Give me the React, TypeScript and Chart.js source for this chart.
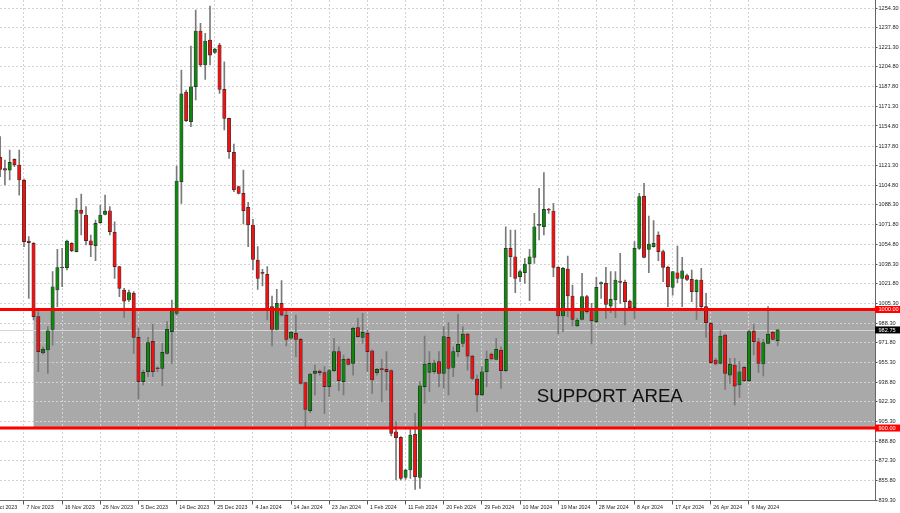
import React, { useEffect, useRef } from "react";
import { Chart, registerables } from "chart.js";

Chart.register(...registerables);

// ---- Data ----
const opens = [
  1128.3, 1118.8, 1117.6, 1126.6, 1121.9, 1109.2, 1057.7, 1055.8, 994.0, 963.5,
  965.8, 983.2, 1016.4, 1035.0, 1035.3, 1055.8, 1048.8, 1083.9, 1079.7, 1058.0,
  1053.8, 1073.2, 1080.2, 1083.3, 1065.0, 1036.1, 1016.4, 1008.0, 1013.6, 976.5,
  939.1, 947.5, 973.1, 950.4, 950.3, 963.0, 981.3, 996.7, 1107.8, 1183.4,
  1158.4, 1187.9, 1234.9, 1206.2, 1227.3, 1216.9, 1223.1, 1185.7, 1161.2, 1132.5,
  1103.6, 1097.9, 1086.1, 1071.3, 1041.7, 1030.5, 1029.6, 1002.4, 983.2, 1005.2,
  995.3, 975.7, 979.9, 974.8, 938.3, 914.6, 946.1, 948.1, 946.7, 934.9,
  948.4, 964.4, 939.1, 958.2, 954.6, 984.7, 976.5, 979.9, 965.2, 946.7,
  949.5, 949.5, 948.4, 896.9, 892.1, 858.4, 864.6, 894.7, 858.4, 934.9,
  947.0, 947.5, 956.0, 946.1, 976.5, 951.2, 964.4, 971.4, 979.3, 960.7,
  941.3, 927.9, 947.5, 962.4, 957.9, 965.8, 948.4, 1051.6, 1044.5, 1027.7,
  1031.0, 1038.4, 1044.0, 1071.0, 1069.8, 1084.0, 1083.1, 1035.5, 994.5, 1034.1,
  1011.4, 986.1, 991.7, 1010.8, 998.2, 989.7, 1021.5, 1022.1, 1002.9, 1008.0,
  1024.0, 1022.9, 1007.1, 1001.5, 1051.6, 1095.7, 1050.7, 1053.0, 1062.8, 1048.8,
  1035.5, 1018.7, 1031.0, 1026.3, 1028.5, 1025.4, 1015.0, 1024.9, 1002.4, 988.3,
  957.4, 954.6, 978.5, 944.7, 953.2, 936.3, 951.2, 939.9, 981.8, 972.8,
  954.0, 971.4, 980.7, 973.7,
];
const highs = [
  1145.8, 1126.1, 1134.5, 1127.0, 1134.5, 1110.0, 1061.4, 1056.5, 998.2, 968.6,
  985.5, 1031.9, 1050.7, 1051.6, 1058.6, 1056.4, 1093.7, 1097.4, 1086.7, 1062.8,
  1075.5, 1088.1, 1096.5, 1086.7, 1074.0, 1036.5, 1017.8, 1016.4, 1015.0, 984.1,
  948.9, 976.5, 987.7, 951.7, 971.4, 989.7, 1008.0, 1121.0, 1202.0, 1185.1,
  1222.2, 1252.6, 1241.4, 1232.9, 1256.0, 1220.5, 1224.5, 1209.0, 1161.5, 1139.6,
  1104.0, 1117.6, 1090.4, 1076.0, 1053.0, 1033.8, 1036.1, 1011.4, 1017.0, 1024.3,
  999.6, 981.3, 995.3, 975.7, 938.5, 946.1, 953.2, 949.0, 951.8, 949.5,
  975.7, 968.6, 961.6, 958.8, 985.0, 992.5, 996.7, 982.7, 965.8, 950.4,
  958.0, 964.4, 949.0, 905.4, 892.7, 865.2, 898.9, 912.4, 939.1, 977.6,
  964.4, 957.4, 964.4, 985.5, 988.9, 968.6, 995.9, 985.5, 979.9, 961.6,
  944.7, 951.7, 965.2, 963.5, 975.7, 968.6, 1069.8, 1067.0, 1067.0, 1033.3,
  1043.1, 1050.7, 1081.1, 1102.2, 1115.4, 1085.3, 1089.5, 1036.1, 1035.5, 1045.1,
  1020.6, 992.5, 1030.5, 1012.0, 1005.2, 1027.1, 1023.4, 1035.5, 1031.9, 1031.9,
  1047.4, 1024.9, 1008.0, 1057.2, 1098.0, 1106.4, 1078.8, 1074.9, 1065.6, 1050.2,
  1036.7, 1032.0, 1053.5, 1044.0, 1029.9, 1033.3, 1025.2, 1034.7, 1013.6, 988.9,
  958.8, 982.1, 979.3, 958.8, 958.8, 956.0, 951.8, 982.7, 987.7, 975.7,
  974.8, 1002.4, 981.3, 983.2,
];
const lows = [
  1112.0, 1105.0, 1109.2, 1120.5, 1096.5, 1053.0, 1009.4, 991.1, 947.5, 962.4,
  946.1, 970.0, 1002.4, 1019.2, 1033.3, 1048.8, 1048.5, 1062.8, 1054.4, 1044.5,
  1041.2, 1072.6, 1079.7, 1062.8, 1026.3, 1010.8, 993.4, 1006.6, 963.0, 924.5,
  936.3, 943.3, 943.3, 947.5, 935.7, 962.4, 954.6, 995.3, 1089.5, 1158.4,
  1154.2, 1176.7, 1204.8, 1194.1, 1206.2, 1216.0, 1182.3, 1151.4, 1127.5, 1099.4,
  1097.5, 1072.1, 1053.0, 1033.3, 1017.0, 1019.8, 991.1, 969.2, 982.7, 994.5,
  969.2, 974.8, 960.2, 937.0, 901.1, 913.0, 927.9, 944.7, 912.4, 926.5,
  947.5, 931.5, 927.9, 953.2, 944.7, 976.5, 971.4, 947.5, 929.3, 944.7,
  922.2, 932.0, 893.3, 856.2, 856.2, 856.7, 857.6, 848.3, 849.1, 920.8,
  930.7, 946.1, 934.9, 933.5, 927.9, 943.3, 960.2, 968.6, 948.9, 940.5,
  913.8, 927.0, 934.9, 957.4, 957.4, 933.5, 947.5, 1027.7, 1014.2, 1023.4,
  1022.0, 1007.4, 1038.9, 1058.6, 1062.8, 1081.1, 1027.7, 979.3, 981.3, 993.9,
  986.1, 985.5, 991.1, 996.8, 970.9, 988.9, 1009.4, 992.5, 997.3, 993.1,
  1005.2, 986.9, 1000.9, 992.5, 1050.7, 1043.5, 1031.0, 1052.5, 1041.2, 1023.4,
  1002.4, 1012.0, 1022.6, 1002.4, 1024.3, 1006.6, 991.7, 1001.5, 976.5, 954.6,
  953.2, 954.0, 932.6, 937.7, 919.4, 925.9, 939.1, 939.1, 961.6, 946.7,
  943.9, 970.9, 974.3, 969.2,
];
const closes = [
  1118.2, 1117.6, 1124.1, 1122.2, 1109.2, 1057.2, 1056.3, 994.0, 964.4, 966.4,
  982.1, 1019.2, 1035.3, 1035.6, 1057.7, 1049.6, 1083.9, 1081.1, 1058.0, 1054.4,
  1072.6, 1079.7, 1083.0, 1065.6, 1036.1, 1017.8, 1007.1, 1014.2, 976.5, 939.1,
  947.0, 972.0, 947.5, 950.0, 963.8, 983.2, 999.6, 1108.4, 1181.8, 1159.3,
  1187.9, 1234.9, 1206.2, 1226.5, 1214.6, 1219.7, 1185.7, 1161.2, 1133.1, 1100.8,
  1097.9, 1083.3, 1071.3, 1042.3, 1026.3, 1030.4, 1001.0, 983.2, 1005.2, 995.3,
  974.8, 980.7, 974.8, 937.7, 915.8, 945.6, 948.1, 946.7, 934.9, 948.4,
  964.4, 939.9, 958.0, 953.7, 984.1, 977.1, 980.7, 964.4, 940.5, 949.5,
  949.3, 947.5, 895.5, 891.9, 857.6, 864.6, 894.1, 859.0, 935.7, 954.0,
  954.6, 955.1, 946.1, 977.1, 950.3, 964.4, 970.6, 979.3, 960.7, 941.9,
  927.9, 947.5, 957.9, 958.2, 966.4, 948.4, 1051.6, 1044.5, 1026.3, 1031.9,
  1038.4, 1044.5, 1069.8, 1071.3, 1084.5, 1083.8, 1035.5, 994.5, 1034.7, 1011.4,
  991.7, 991.1, 1010.8, 998.2, 990.6, 1018.7, 1022.6, 1004.3, 1008.5, 1024.9,
  1022.9, 1006.6, 1001.5, 1051.6, 1095.2, 1044.0, 1055.2, 1055.8, 1048.8, 1035.5,
  1019.2, 1031.9, 1026.3, 1032.7, 1025.4, 1015.0, 1024.9, 1002.4, 988.9, 955.1,
  954.0, 977.6, 946.1, 954.0, 935.4, 947.5, 939.9, 981.3, 972.8, 954.6,
  972.0, 979.3, 974.8, 982.75,
];

const dateTickIndex = [-3, 5, 13, 21, 29, 37, 45, 53, 61, 69, 77, 85, 93, 101, 109, 117, 125, 133, 141, 149, 157];
const dateTickLabels = [
  "29 Oct 2023", "7 Nov 2023", "16 Nov 2023", "26 Nov 2023", "5 Dec 2023", "14 Dec 2023",
  "25 Dec 2023", "4 Jan 2024", "14 Jan 2024", "23 Jan 2024", "1 Feb 2024", "11 Feb 2024",
  "20 Feb 2024", "29 Feb 2024", "10 Mar 2024", "19 Mar 2024", "28 Mar 2024", "8 Apr 2024",
  "17 Apr 2024", "26 Apr 2024", "6 May 2024",
];
const priceTicks = [
  1254.3, 1237.8, 1221.3, 1204.8, 1187.8, 1171.3, 1154.8, 1137.8, 1121.3, 1104.8,
  1088.3, 1071.8, 1054.8, 1038.3, 1021.8, 1005.3, 988.3, 971.8, 955.3, 938.8,
  922.3, 905.3, 888.8, 872.3, 855.8, 839.3,
];

const SUPPORT_TOP = 1000;
const SUPPORT_BOTTOM = 900;
const SUPPORT_START_BAR = 7;
const LAST_PRICE = 982.75;
const SUPPORT_LABEL = "SUPPORT AREA";
const LABEL_BAR = 112.5;
const LABEL_PRICE = 921.7;

const X_MIN = -0.031;
const X_MAX = 183.42;
const Y_MIN = 838.88;
const Y_MAX = 1261.05;

const GREEN = "#0f870f";
const RED = "#f01212";
const AXIS_FONT = "Liberation Sans, Arial, sans-serif";

const overlayPlugin = {
  id: "overlay",
  beforeDraw(chart: any) {
    const { ctx, chartArea, scales } = chart;
    const x = scales.x;
    const y = scales.y;
    ctx.save();
    ctx.fillStyle = "#ffffff";
    ctx.fillRect(0, 0, chart.width, chart.height);
    const x0 = x.getPixelForValue(SUPPORT_START_BAR);
    const yTop = y.getPixelForValue(SUPPORT_TOP);
    const yBot = y.getPixelForValue(SUPPORT_BOTTOM);
    ctx.fillStyle = "#a9a9a9";
    ctx.fillRect(x0, yTop, chartArea.right - x0, yBot - yTop);
    ctx.restore();
  },
  beforeDatasetsDraw(chart: any) {
    const { ctx, chartArea, scales } = chart;
    const yp = Math.round(scales.y.getPixelForValue(LAST_PRICE)) + 0.5;
    ctx.save();
    ctx.strokeStyle = "#d6d6d6";
    ctx.lineWidth = 1;
    ctx.beginPath();
    ctx.moveTo(chartArea.left, yp);
    ctx.lineTo(chartArea.right, yp);
    ctx.stroke();
    ctx.restore();
  },
  afterDatasetsDraw(chart: any) {
    const { ctx, chartArea, scales } = chart;
    const y = scales.y;
    const x = scales.x;
    ctx.save();
    ctx.strokeStyle = "#ff0000";
    ctx.lineWidth = 3;
    [SUPPORT_TOP, SUPPORT_BOTTOM].forEach((v) => {
      const yp = y.getPixelForValue(v);
      ctx.beginPath();
      ctx.moveTo(chartArea.left, yp);
      ctx.lineTo(chartArea.right, yp);
      ctx.stroke();
    });
    ctx.fillStyle = "#111111";
    ctx.font = "18.7px Liberation Sans, Arial, sans-serif";
    ctx.textBaseline = "alphabetic";
    ctx.textAlign = "left";
    ctx.fillText(SUPPORT_LABEL, x.getPixelForValue(LABEL_BAR), y.getPixelForValue(LABEL_PRICE));
    ctx.restore();
  },
  afterDraw(chart: any) {
    const { ctx, chartArea, scales } = chart;
    const y = scales.y;
    const boxes = [
      { v: SUPPORT_TOP, bg: "#ff0000" },
      { v: SUPPORT_BOTTOM, bg: "#ff0000" },
      { v: LAST_PRICE, bg: "#000000" },
    ];
    ctx.save();
    ctx.font = "5.6px " + AXIS_FONT;
    ctx.textBaseline = "middle";
    ctx.textAlign = "left";
    boxes.forEach((b) => {
      const yp = y.getPixelForValue(b.v);
      ctx.fillStyle = b.bg;
      ctx.fillRect(chartArea.right, yp - 3.5, chart.width - chartArea.right, 7);
      ctx.fillStyle = "#ffffff";
      ctx.fillText(b.v.toFixed(2), chartArea.right + 3.5, yp + 0.3);
    });
    ctx.restore();
  },
};

export default function App() {
  const canvasRef = useRef<HTMLCanvasElement | null>(null);

  useEffect(() => {
    if (!canvasRef.current) return;
    const bodyData = opens.map((o, i) => ({ x: i, y: [o, closes[i]] }));
    const wickData = lows.map((l, i) => ({ x: i, y: [l, highs[i]] }));

    const chart = new Chart(canvasRef.current, {
      type: "bar",
      data: {
        datasets: [
          {
            label: "body",
            data: bodyData as any,
            backgroundColor: (c: any) => (closes[c.dataIndex] >= opens[c.dataIndex] ? GREEN : RED),
            borderColor: "rgba(20,20,20,0.85)",
            borderWidth: 0.7,
            borderSkipped: false,
            barThickness: 3.4,
            minBarLength: 1,
            grouped: false,
          } as any,
          {
            label: "wick",
            data: wickData as any,
            backgroundColor: "#7a7a7a",
            borderWidth: 0,
            barThickness: 1,
            grouped: false,
          } as any,
        ],
      },
      options: {
        responsive: false,
        maintainAspectRatio: false,
        animation: false,
        devicePixelRatio: 1,
        layout: { padding: 0 },
        plugins: { legend: { display: false }, tooltip: { enabled: false } },
        scales: {
          x: {
            type: "linear",
            min: X_MIN,
            max: X_MAX,
            offset: false,
            afterBuildTicks: (s: any) => {
              s.ticks = dateTickIndex.map((v) => ({ value: v }));
            },
            afterFit: (s: any) => {
              s.height = 12.5;
              s.paddingLeft = 0;
              s.paddingRight = 0;
            },
            ticks: {
              autoSkip: false,
              maxRotation: 0,
              minRotation: 0,
              align: "start",
              labelOffset: 2.5,
              padding: 0,
              color: "#1e1e1e",
              font: { family: AXIS_FONT, size: 5.3, lineHeight: 1 },
              callback: (v: any) => {
                const k = dateTickIndex.indexOf(Number(v));
                return k >= 0 ? dateTickLabels[k] : "";
              },
            },
            grid: {
              offset: false,
              color: "#d2d2d2",
              lineWidth: 1,
              tickLength: 4,
              tickColor: "#555555",
              tickBorderDash: [],
            },
            border: { display: true, color: "#666666", width: 1, dash: [2, 2] },
          } as any,
          y: {
            type: "linear",
            position: "right",
            min: Y_MIN,
            max: Y_MAX,
            afterBuildTicks: (s: any) => {
              s.ticks = priceTicks.map((v) => ({ value: v }));
            },
            afterFit: (s: any) => {
              s.width = 25;
              s.paddingTop = 0;
              s.paddingBottom = 0;
            },
            ticks: {
              autoSkip: false,
              padding: 1,
              color: "#1e1e1e",
              font: { family: AXIS_FONT, size: 5.6, lineHeight: 1 },
              callback: (v: any) => Number(v).toFixed(2),
            },
            grid: {
              color: "#d2d2d2",
              lineWidth: 1,
              tickLength: 2.5,
              tickColor: "#555555",
              tickBorderDash: [],
            },
            border: { display: true, color: "#666666", width: 1, dash: [2, 2] },
          } as any,
        },
      },
      plugins: [overlayPlugin],
    });
    return () => chart.destroy();
  }, []);

  return (
    <div style={{ position: "absolute", left: 0, top: 0, width: 900, height: 513, background: "#fff" }}>
      <canvas ref={canvasRef} width={900} height={513} style={{ display: "block" }} />
    </div>
  );
}
